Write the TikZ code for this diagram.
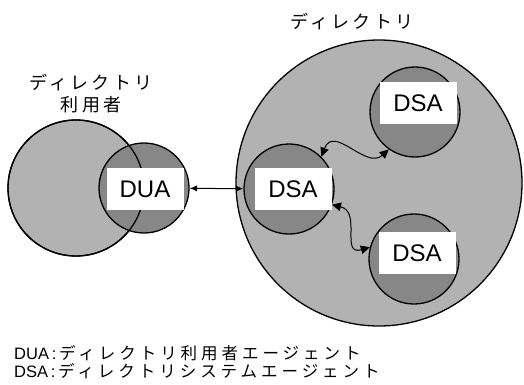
\documentclass[tikz,border=0pt]{standalone}
\usepackage{fontspec}
\setmainfont{Liberation Sans}
\newfontfamily\jp{Noto Sans CJK JP}
\usetikzlibrary{positioning,arrows.meta}

\begin{document}
\begin{tikzpicture}[x=1pt, y=-1pt,
    bigdisc/.style={draw, circle, line width=1.3pt, fill=black!30, minimum size=#1},
    agentdisc/.style={draw, circle, line width=1.3pt, fill=black!47, minimum size=90pt},
    agentbox/.style={fill=white, minimum width=77pt, minimum height=42pt, inner sep=0pt, font=\fontsize{24}{24}\selectfont},
    jplabel/.style={align=center, inner sep=0pt, font=\jp\fontsize{18}{22}\selectfont\addfontfeatures{LetterSpace=18}},
    keyline/.style={anchor=west, inner sep=0pt, font=\fontsize{16.5}{20}\selectfont},
    arrow/.style={{Latex[length=2.6mm,width=2.2mm]}-{Latex[length=2.6mm,width=2.2mm]}, line width=1pt},
    wavy/.style={{Triangle[length=3.2mm,width=3mm]}-{Triangle[length=3.2mm,width=3mm]}, line width=1pt}
]
\useasboundingbox (0,0) rectangle (524,384);

% --- Lado del usuario ---
\node[bigdisc=136pt] (user) at (76,188) {};
\node[agentdisc] (duac) at (144,188) {};
\draw[line width=1.3pt] (user.center) circle[radius=68];
\node[agentbox] (dua) at (145,189) {DUA};
\node[jplabel] (usertitle) at (91,94) {ディレクトリ\\利用者};

% --- Directorio con sus agentes ---
\node[bigdisc=286pt] (dir) at (379,183) {};
\node[agentdisc] (dsa1c) at (289,189) {};
\node[agentdisc] (dsa2c) at (415,112) {};
\node[agentdisc] (dsa3c) at (414,259) {};
\node[agentbox] (dsa1) at (293,189) {DSA};
\node[agentbox] (dsa2) at (418,103) {DSA};
\node[agentbox] (dsa3) at (417,253) {DSA};
\node[jplabel] (dirtitle) at (352,22) {ディレクトリ};

% --- Conexiones ---
\draw[arrow] (duac) -- (dsa1c);
\draw[wavy] (dsa1c.45) .. controls (334,124) and (366,170) .. (dsa2c.235);
\draw[wavy] (dsa1c.-20) .. controls (362,212) and (340,256) .. (dsa3c.165);

% --- Leyenda ---
\node[keyline] (leg1) at (14,353) {DUA\,:\,{\jp\fontsize{16.5}{16}\selectfont\addfontfeatures{LetterSpace=24}ディレクトリ利用者エージェント}};
\node[keyline] (leg2) at (14,371) {DSA\,:\,{\jp\fontsize{16.5}{16}\selectfont\addfontfeatures{LetterSpace=24}ディレクトリシステムエージェント}};

\end{tikzpicture}
\end{document}
